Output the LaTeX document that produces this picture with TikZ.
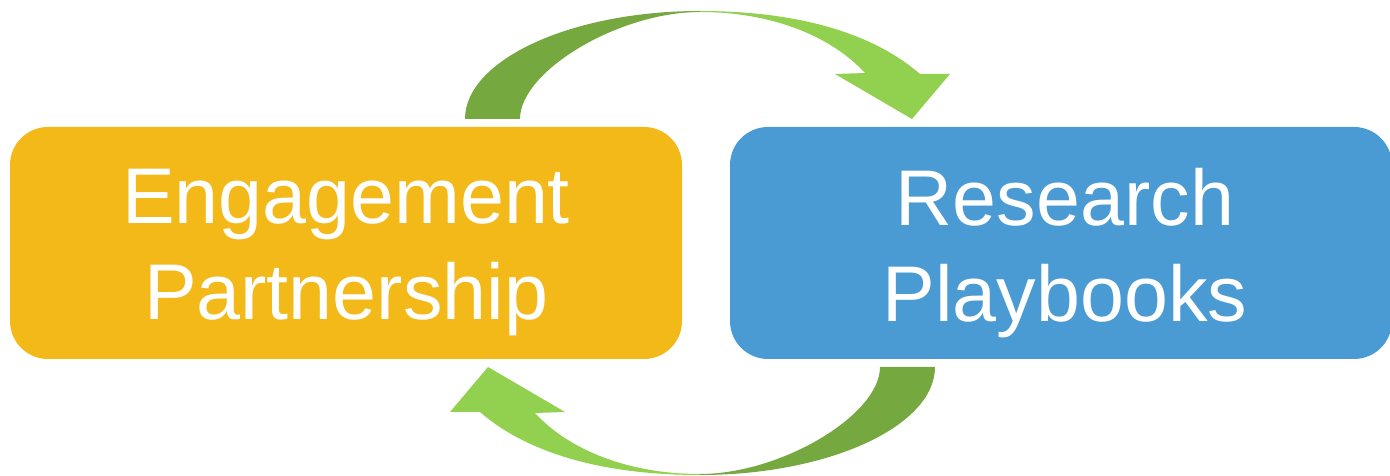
\documentclass[tikz,border=0pt]{standalone}
\usepackage{fontspec}
\setmainfont{Liberation Sans}
\definecolor{engorange}{RGB}{242,185,24}
\definecolor{resblue}{RGB}{74,155,211}
\definecolor{darkgreen}{RGB}{118,168,64}
\definecolor{lightgreen}{RGB}{146,208,80}
\begin{document}
\begin{tikzpicture}[x=1pt,y=1pt,
  box/.style={rounded corners=38pt, inner sep=0pt, draw=none},
  boxtext/.style={text=white, align=center, inner sep=0pt, font=\fontsize{79}{96}\selectfont}]
\useasboundingbox (0,0) rectangle (1390,476);
% boxes
\node[box, fill=engorange, minimum width=672pt, minimum height=232pt] (eng) at (346,233) {};
\node[box, fill=resblue, minimum width=662pt, minimum height=232pt] (res) at (1061,233) {};
\node[boxtext] (engtext) at (346,223) {Engagement\\Partnership};
\node[boxtext] (restext) at (1065,223) {Research\\Playbooks};
% top arrow, and the same arrow turned half round for the bottom one
\foreach \ang in {0,180}{
  \begin{scope}[rotate around={\ang:(700,233)}]
    \fill[darkgreen] (465,357) .. controls (465,416) and (571,465) .. (700,465)
      -- (700,464) .. controls (619,464) and (520,405) .. (520,357) -- cycle;
    \fill[lightgreen] (700,465) .. controls (800,465) and (874,442) .. (920,402)
      -- (950,402) -- (912,357) -- (835,402) -- (865,403)
      .. controls (830,441) and (770,464) .. (700,464) -- cycle;
  \end{scope}
}
\end{tikzpicture}
\end{document}
